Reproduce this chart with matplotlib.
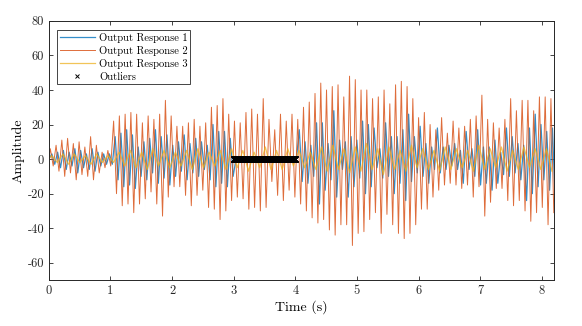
import numpy as np
import matplotlib
matplotlib.use("Agg")
import matplotlib.pyplot as plt

plt.rcParams['font.family'] = ['cmr10', 'DejaVu Serif']
plt.rcParams['axes.unicode_minus'] = False
plt.rcParams['mathtext.fontset'] = 'cm'

# ---- data (peak / trough values) ----
main_period = 0.0934   # s, one oscillation of responses 1 and 2
slow_period = 0.1825   # s, one oscillation of response 3
resp1_lag = 0.025      # s, response 1 trails response 2 a little

resp1_peaks = [3, 4, 5, 4, 6, 5, 3, 6, 4, 3, 3, 13, 15, 17, 14,
               7, 10, 12, 17, 13, 14, 8, 10, 14, 9, 12, 10, 8, 20, 16,
               16, 12, 0, 0, 0, 0, 0, 0, 0, 0, 0, 0, 0, 17, 10,
               8, 21, 21, 9, 28, 11, 10, 13, 11, 22, 20, 18, 6, 21, 13,
               13, 17, 26, 13, 19, 9, 7, 18, 7, 8, 9, 5, 16, 6, 17,
               7, 7, 11, 4, 18, 13, 9, 8, 18, 26, 20, 16, 18]
resp1_troughs = [-3, -5, -6, -4, -8, -5, -6, -7, -4, -3, -3, -12, -16, -15, -17,
                 -10, -12, -8, -14, -11, -15, -10, -7, -12, -8, -10, -6, -12, -16, -14,
                 -16, -10, 0, 0, 0, 0, 0, 0, 0, 0, 0, 0, 0, -13, -14,
                 -10, -26, -18, -12, -22, -6, -22, -16, -11, -20, -16, -5, -11, -10, -20,
                 -14, -24, -13, -8, -10, -14, -6, -8, -6, -4, -6, -14, -6, -10, -15,
                 -14, -18, -14, -9, -10, -8, -12, -24, -20, -16, -12, -18, -28]

resp2_peaks = [6, 8, 11, 12, 9, 10, 7, 13, 8, 4, 5, 22, 25, 26, 27,
               26, 21, 25, 23, 26, 34, 25, 19, 19, 21, 23, 19, 21, 30, 31,
               35, 26, 22, 21, 27, 29, 26, 35, 23, 17, 26, 22, 26, 23, 30,
               33, 38, 44, 40, 42, 43, 36, 48, 46, 40, 40, 35, 36, 40, 32,
               43, 45, 42, 35, 24, 27, 20, 17, 24, 15, 22, 18, 19, 23, 25,
               37, 23, 21, 18, 23, 35, 28, 34, 34, 28, 36, 36, 35]
resp2_troughs = [-4, -7, -10, -8, -12, -9, -10, -12, -8, -5, -4, -20, -27, -26, -31,
                 -26, -23, -19, -26, -33, -22, -16, -16, -21, -27, -21, -18, -28, -29, -35,
                 -30, -24, -22, -23, -29, -28, -30, -28, -13, -21, -24, -18, -22, -26, -30,
                 -34, -37, -35, -41, -44, -38, -38, -50, -43, -42, -35, -31, -43, -32, -38,
                 -43, -46, -43, -38, -29, -29, -22, -18, -15, -14, -15, -17, -15, -22, -16,
                 -33, -25, -17, -17, -24, -27, -24, -30, -36, -31, -28, -38, -31]

resp3_peaks = [2, 3, 3, 2, 3, 2, 4, 5, 4, 6, 5, 4, 5, 6, 4, 5, 6, 5, 4, 7, 5, 6, 5,
               4, 7, 8, 6, 7, 9, 6, 7, 5, 8, 6, 5, 7, 6, 5, 8, 6, 7, 5, 7, 6, 6]
resp3_troughs = [-2, -3, -2, -3, -2, -2, -4, -5, -6, -4, -5, -4, -6, -5, -4, -6, -5, -7, -5,
                 -6, -6, -4, -5, -6, -7, -6, -8, -7, -6, -9, -6, -7, -5, -6, -7, -6, -5,
                 -7, -6, -5, -7, -6, -5, -6, -7]

outlier_start, outlier_end, outlier_step = 3.0, 4.0, 0.004
outlier_value = 0.0

labels = ["Output Response 1", "Output Response 2", "Output Response 3", "Outliers"]


def zigzag(peaks, troughs, period, lag=0.0):
    vals = np.column_stack([peaks, troughs]).ravel()
    t = (np.arange(len(vals)) + 0.5) * period / 2 + lag
    return np.r_[0.0, t], np.r_[0.0, vals]


t1, y1 = zigzag(resp1_peaks, resp1_troughs, main_period, resp1_lag)
t2, y2 = zigzag(resp2_peaks, resp2_troughs, main_period)
t3, y3 = zigzag(resp3_peaks, resp3_troughs, slow_period)
t_out = np.arange(outlier_start, outlier_end + 1e-9, outlier_step)
y_out = np.full_like(t_out, outlier_value)

fig = plt.figure(figsize=(5.82, 3.26), dpi=100)
ax = fig.add_axes([0.084, 0.141, 0.868, 0.795])

ax.plot(t1, y1, color='#0072BD', lw=0.9, alpha=0.8, label=labels[0])
ax.plot(t2, y2, color='#D95319', lw=0.7, alpha=0.85, label=labels[1])
ax.plot(t3, y3, color='#EDB120', lw=0.9, alpha=0.75, label=labels[2])
ax.plot(t_out, y_out, 'x', color='k', ms=4.5, mew=1.0, label=labels[3])

ax.set_xlim(0, 8.2)
ax.set_ylim(-70, 80)
ax.set_xticks(range(0, 9))
ax.set_yticks(range(-60, 81, 20))
ax.tick_params(direction='in', top=True, right=True, labelsize=9,
               length=3, width=0.6, colors='#262626')
for s in ax.spines.values():
    s.set_color('#262626')
    s.set_linewidth(0.7)

ax.set_xlabel("Time (s)", fontsize=10, labelpad=2)
ax.set_ylabel("Amplitude", fontsize=10, labelpad=2)

leg = ax.legend(loc='upper left', fontsize=7.6, handlelength=3.3,
                labelspacing=0.3, borderpad=0.25, handletextpad=0.4,
                fancybox=False, framealpha=1, edgecolor='#262626',
                bbox_to_anchor=(0.006, 0.985))
leg.get_frame().set_linewidth(0.6)
leg.legend_handles[3].set_markersize(3.5)
leg.legend_handles[3].set_markeredgewidth(0.7)

fig.savefig("out.png", dpi=100)
